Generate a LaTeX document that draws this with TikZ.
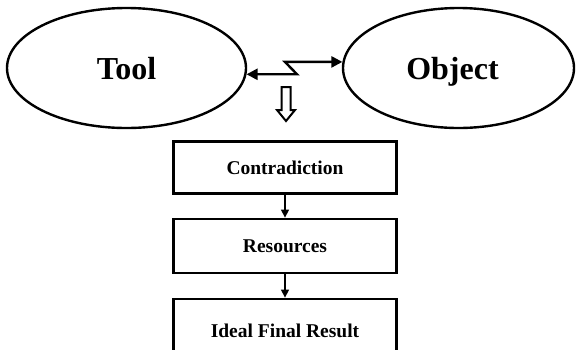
\documentclass[tikz,border=0pt]{standalone}
\usepackage{fontspec}
\setmainfont{Liberation Serif}
\usetikzlibrary{arrows.meta,shapes.geometric,calc}

\tikzset{
  oval/.style={draw, ellipse, line width=2.4pt, minimum width=239pt,
    minimum height=120pt, inner sep=0pt, text height=22pt, text depth=0pt,
    font=\fontsize{32}{36}\selectfont\bfseries},
  stepbox/.style={draw, rectangle, line width=2.8pt, minimum width=223pt,
    minimum height=52pt, inner sep=0pt, font=\fontsize{19.5}{22}\selectfont\bfseries},
  conflict/.style={line width=2.4pt, {Triangle[length=11pt,width=11pt]}-{Triangle[length=11pt,width=11pt]}},
  flow/.style={line width=1.3pt, -{Triangle[length=8pt,width=8pt]}},
  hollow/.style={draw, line width=2pt, fill=white, line join=miter}
}

\begin{document}
\begin{tikzpicture}[x=1pt,y=-1pt]
  \path[use as bounding box] (0,0) rectangle (576,349);
  \clip (0,0) rectangle (576,349);
  \fill[white] (0,0) rectangle (576,349);

  % the two interacting elements
  \node[oval] (tool) at (126.5,68) {Tool};
  \node[oval, minimum width=231pt] (obj) at (458.5,68) {Object\hspace*{12pt}};

  % zigzag conflict link between them
  \coordinate (zr) at (297,0);
  \coordinate (zl) at (285,0);
  \draw[conflict, line join=miter] (tool.-3) -- (tool.-3 -| zr) -- (obj.177 -| zl) -- (obj.177);

  % hollow downward arrow
  \coordinate (ha) at (286,87);
  \draw[hollow] ($(ha)+(-4.5,0)$) -- ($(ha)+(4.5,0)$) -- ($(ha)+(4.5,23)$) -- ($(ha)+(9,23)$)
    -- ($(ha)+(0,34)$) -- ($(ha)+(-9,23)$) -- ($(ha)+(-4.5,23)$) -- cycle;

  % solution steps
  \node[stepbox] (contra) at (285,167.5) {Contradiction};
  \node[stepbox, minimum height=54pt] (res) at (285,246) {Resources};
  \node[stepbox, minimum height=64pt] (ifr) at (285,331) {Ideal Final Result};

  \draw[flow] (contra) -- (res);
  \draw[flow] (res) -- (ifr);
\end{tikzpicture}
\end{document}
